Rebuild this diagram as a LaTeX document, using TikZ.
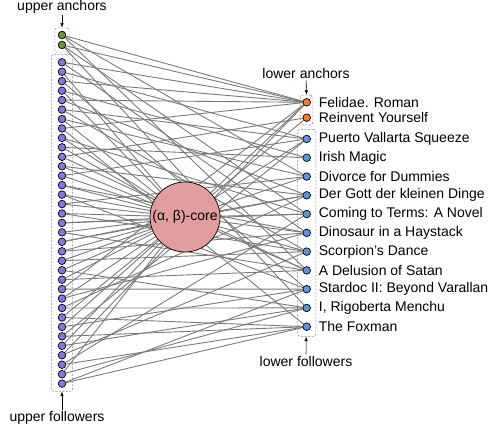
\documentclass[tikz,border=0pt]{standalone}
\usepackage{fontspec}
\setmainfont{Liberation Sans}
\usetikzlibrary{fit, backgrounds, arrows.meta}
\definecolor{AnchorUp}{RGB}{100,150,45}
\definecolor{FollowerUp}{RGB}{132,118,228}
\definecolor{AnchorLow}{RGB}{240,128,45}
\definecolor{FollowerLow}{RGB}{98,148,218}
\definecolor{CoreFill}{RGB}{226,158,158}
\definecolor{AnchorBox}{RGB}{238,115,115}
\definecolor{FollowerBox}{RGB}{118,138,192}
\tikzset{
    vertex/.style={circle, draw, line width=0.7pt, minimum size=7.6pt, inner sep=0pt},
    ua/.style={vertex, fill=AnchorUp},
    uf/.style={vertex, fill=FollowerUp},
    la/.style={vertex, fill=AnchorLow, label={[label distance=4.5pt]right:{#1}}},
    lf/.style={vertex, fill=FollowerLow, label={[label distance=4.5pt]right:{#1}}},
    core/.style={circle, draw, line width=0.7pt, fill=CoreFill, minimum size=70pt, inner sep=0pt},
    groupbox/.style={draw, dash pattern=on 2pt off 1.5pt, line width=0.6pt, rounded corners=2.5pt},
    grouplabel/.style={inner sep=1.5pt},
    link/.style={draw=black!52, line width=0.9pt},
    pointer/.style={-{Latex[length=4.5pt,width=3.5pt]}, line width=0.6pt}
}

\begin{document}
\begin{tikzpicture}[x=1pt, y=-1pt, font=\fontsize{14}{16}\selectfont]
\useasboundingbox (0,0) rectangle (495,430);

% Nodos superiores
\node[ua] (ua1) at (62,35) {};
\node[ua] (ua2) at (62,45) {};
\foreach \i in {1,...,35}
    \node[uf] (uf\i) at (62,{62.3+9.45*(\i-1)}) {};

% Nodos inferiores
\node[la={Felidae. Roman}] (la1) at (306.7,102.3) {};
\node[la={Reinvent Yourself}] (la2) at (306.7,117.7) {};
\foreach \t [count=\j] in {Puerto Vallarta Squeeze, Irish Magic, Divorce for Dummies,
    Der Gott der kleinen Dinge, Coming to Terms: A Novel, Dinosaur in a Haystack,
    Scorpion's Dance, A Delusion of Satan, Stardoc II: Beyond Varallan,
    {I, Rigoberta Menchu}, The Foxman}
    \node[lf=\t] (lf\j) at (306.7,{139+18.77*(\j-1)}) {};

\node[core] (core) at (185,217) {(α, β)-core};

% Cajas y aristas, debajo de los nodos
\begin{pgfonlayer}{background}
\node[groupbox, draw=AnchorBox, fit=(ua1)(ua2), inner xsep=3pt, inner ysep=3pt] (uabox) {};
\node[groupbox, draw=FollowerBox, fit=(uf1)(uf35), inner xsep=6.5pt, inner ysep=3.5pt] (ufbox) {};
\node[groupbox, draw=AnchorBox, fit=(la1)(la2), inner xsep=2pt, inner ysep=3pt] (labox) {};
\node[groupbox, draw=FollowerBox, fit=(lf1)(lf11), inner xsep=5pt, inner ysep=5.5pt] (lfbox) {};

\foreach \a/\ends in {ua1/{lf3,lf8,la1}, ua2/{lf10,lf5,la1},
    uf1/{la1,lf6}, uf2/{lf1,core}, uf3/{la1,lf9}, uf4/{lf2,core},
    uf5/{la1,lf4}, uf6/{lf1,lf7}, uf7/{core,lf3}, uf8/{la1,lf11},
    uf9/{core,lf5}, uf10/{lf2,core}, uf11/{la2,lf8}, uf12/{core,lf4},
    uf13/{lf1,core}, uf14/{core,lf6}, uf15/{core,lf9}, uf16/{core,lf3},
    uf17/{core,lf7}, uf18/{core,lf5}, uf19/{core,lf8}, uf20/{core,lf4},
    uf21/{lf6,core}, uf22/{lf7,core}, uf23/{lf10,core}, uf24/{lf8,core},
    uf25/{lf9,la1}, uf26/{lf6,core}, uf27/{lf10,lf4}, uf28/{lf11,core},
    uf29/{lf9,core}, uf30/{lf11,lf1}, uf31/{lf10,core}, uf32/{la1,lf7},
    uf33/{lf11,lf5}, uf34/{lf10,core}, uf35/{lf11,lf9},
    core/{la1,la2,lf1,lf3,lf4,lf5,lf6,lf7,lf8}}
    \foreach \b in \ends
        \draw[link] (\a) -- (\b);
\end{pgfonlayer}

% Etiquetas de los grupos
\node[grouplabel] (ualabel) at (62,7) {upper anchors};
\draw[pointer] (ualabel) -- (uabox);
\node[grouplabel] (uflabel) at (57,418) {upper followers};
\draw[pointer] (uflabel.north -| ufbox.south) -- (ufbox.south);
\node[grouplabel] (lalabel) at (306,73) {lower anchors};
\draw[pointer] (lalabel) -- (labox);
\node[grouplabel] (lflabel) at (306,361) {lower followers};
\draw[pointer] (lflabel) -- (lfbox);

\end{tikzpicture}
\end{document}
